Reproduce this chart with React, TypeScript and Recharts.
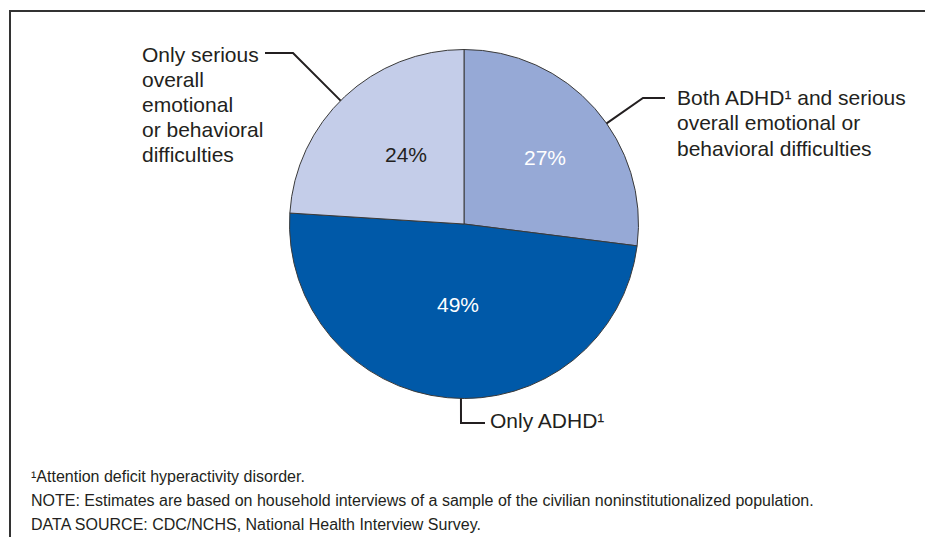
import { PieChart, Pie, Cell } from 'recharts'

// Slices run clockwise from 12 o'clock
const categories = [
  'Both ADHD¹ and serious overall emotional or behavioral difficulties',
  'Only ADHD¹',
  'Only serious overall emotional or behavioral difficulties',
]
const shares = [27, 49, 24]
const labelLines = [
  ['Both ADHD¹ and serious', 'overall emotional or', 'behavioral difficulties'],
  ['Only ADHD¹'],
  ['Only serious', 'overall', 'emotional', 'or behavioral', 'difficulties'],
]
const footnotes = [
  '¹Attention deficit hyperactivity disorder.',
  'NOTE: Estimates are based on household interviews of a sample of the civilian noninstitutionalized population.',
  'DATA SOURCE: CDC/NCHS, National Health Interview Survey.',
]

const colors = ['#96A9D6', '#0059A8', '#C4CDE9']
const pctColors = ['#FFFFFF', '#FFFFFF', '#231F20']
const INK = '#231F20'
const FONT = '"Liberation Sans", Arial, Helvetica, sans-serif'

// label layout, offsets from the pie centre
const layout = [
  { angle: 35.2, elbow: [179, -126], end: [201, -126], text: [213, -127], gap: 25.8, pct: [81, -67] },
  { angle: -91, elbow: [-3, 199], end: [21, 199], text: [26, 196], gap: 25, pct: [-6, 80] },
  { angle: 135, elbow: [-171, -171], end: [-199, -171], text: [-322, -170], gap: 25, pct: [-58, -70] },
]

const chartData = categories.map((name, i) => ({ name, value: shares[i] }))

const RAD = Math.PI / 180

// eslint-disable-next-line @typescript-eslint/no-explicit-any
function renderLabel(props: any) {
  const { cx, cy, outerRadius, index, value } = props
  const l = layout[index]
  const px = cx + outerRadius * Math.cos(l.angle * RAD)
  const py = cy - outerRadius * Math.sin(l.angle * RAD)
  return (
    <g key={`lbl-${index}`}>
      <polyline
        points={`${px},${py} ${cx + l.elbow[0]},${cy + l.elbow[1]} ${cx + l.end[0]},${cy + l.end[1]}`}
        fill="none"
        stroke={INK}
        strokeWidth={2}
      />
      <text
        x={cx + l.pct[0]}
        y={cy + l.pct[1]}
        fill={pctColors[index]}
        fontSize={21}
        fontFamily={FONT}
        textAnchor="middle"
        dominantBaseline="central"
      >
        {value}%
      </text>
      {labelLines[index].map((line, j) => (
        <text
          key={j}
          x={cx + l.text[0]}
          y={cy + l.text[1] + j * l.gap}
          fill={INK}
          fontSize={21}
          fontFamily={FONT}
          dominantBaseline="central"
        >
          {line}
        </text>
      ))}
    </g>
  )
}

export default function App() {
  return (
    <div
      style={{
        position: 'absolute',
        left: 0,
        top: 0,
        width: 925,
        height: 537,
        background: '#fff',
        overflow: 'hidden',
      }}
    >
      {/* frame: only top and left edges show */}
      <div style={{ position: 'absolute', left: 9, top: 10, width: 916, height: 2, background: '#333' }} />
      <div style={{ position: 'absolute', left: 9, top: 10, width: 2, height: 527, background: '#333' }} />
      <div style={{ position: 'absolute', left: 0, top: 0 }}>
        <PieChart width={925} height={450} margin={{ top: 0, right: 0, bottom: 0, left: 0 }}>
          <Pie
            data={chartData}
            dataKey="value"
            nameKey="name"
            cx={464}
            cy={224}
            outerRadius={174.5}
            startAngle={90}
            endAngle={-270}
            stroke="#3a3a3a"
            strokeWidth={1}
            label={renderLabel}
            labelLine={false}
            isAnimationActive={false}
          >
            {chartData.map((d, i) => (
              <Cell key={d.name} fill={colors[i]} />
            ))}
          </Pie>
        </PieChart>
      </div>
      {footnotes.map((t, i) => (
        <div
          key={i}
          style={{
            position: 'absolute',
            left: 31,
            top: 467 + i * 24,
            lineHeight: '20px',
            fontFamily: FONT,
            fontSize: 16,
            color: INK,
            whiteSpace: 'nowrap',
          }}
        >
          {t}
        </div>
      ))}
    </div>
  )
}
